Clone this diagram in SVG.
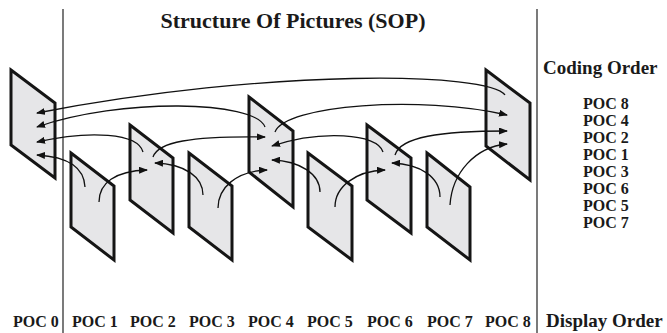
<svg xmlns="http://www.w3.org/2000/svg" width="667" height="333" viewBox="0 0 667 333">
<defs>
<marker id="ah" markerWidth="9" markerHeight="7" refX="8" refY="3.5" orient="auto" markerUnits="userSpaceOnUse">
<path d="M0,0 L9,3.5 L0,7 z" fill="#111"/>
</marker>
<style>
.fr{fill:#e6e6e8;stroke:#151515;stroke-width:3;stroke-linejoin:miter}
.cn path{fill:none;stroke:#111;stroke-width:1.3;marker-end:url(#ah)}
.t{font-family:"Liberation Serif","Times New Roman",serif;font-weight:bold;fill:#1a1a1a}
.dv{stroke:#333;stroke-width:1.3}
</style>
</defs>
<rect width="667" height="333" fill="#fff"/>
<line class="dv" x1="63" y1="9" x2="63" y2="333"/>
<line class="dv" x1="537" y1="9" x2="537" y2="333"/>
<text class="t" x="293" y="28" font-size="22" text-anchor="middle">Structure Of Pictures (SOP)</text>
<g id="poc0"><path class="fr" d="M11,70 L55,103 L55,178 L11,145 Z"/></g>
<g id="poc1"><path class="fr" d="M71,153 L114,186 L114,260 L71,227 Z"/></g>
<g id="poc2"><path class="fr" d="M130,125 L173,158 L173,233 L130,200 Z"/></g>
<g id="poc3"><path class="fr" d="M189,153 L232,186 L232,260 L189,227 Z"/></g>
<g id="poc4"><path class="fr" d="M249,97 L293,131 L293,207 L249,172 Z"/></g>
<g id="poc5"><path class="fr" d="M308,153 L352,186 L352,260 L308,227 Z"/></g>
<g id="poc6"><path class="fr" d="M367,125 L411,158 L411,233 L367,200 Z"/></g>
<g id="poc7"><path class="fr" d="M427,153 L470,187 L470,260 L427,227 Z"/></g>
<g id="poc8"><path class="fr" d="M486,70 L530,103 L530,180 L486,146 Z"/></g>
<g id="connectors" class="cn">
<path d="M505,95 C490,72 270,68 37,113"/>
<path d="M265,127 C255,100 120,98 37,127"/>
<path d="M143,152 C138,133 90,130 37,142"/>
<path d="M85,187 C84,168 70,157 37,155"/>
<path d="M99,202 C99,183 115,171 147,170"/>
<path d="M153,157 C158,142 190,136 265,137"/>
<path d="M203,195 C203,177 185,164 155,163"/>
<path d="M218,208 C218,188 236,171 267,170"/>
<path d="M275,132 C285,105 420,95 507,115"/>
<path d="M383,152 C378,133 320,130 272,146"/>
<path d="M395,155 C400,137 440,131 507,131"/>
<path d="M320,192 C320,174 300,161 272,160"/>
<path d="M335,207 C335,187 355,171 385,170"/>
<path d="M440,197 C440,177 420,164 392,163"/>
<path d="M450,205 C452,173 475,147 507,144"/>
</g>
<g class="t" font-size="19">
<text x="543" y="74">Coding Order</text>
<text x="546" y="327">Display Order</text>
</g>
<g class="t" font-size="16">
<text x="583" y="109">POC 8</text>
<text x="583" y="126">POC 4</text>
<text x="583" y="143">POC 2</text>
<text x="583" y="160">POC 1</text>
<text x="583" y="177">POC 3</text>
<text x="583" y="194">POC 6</text>
<text x="583" y="211">POC 5</text>
<text x="583" y="228">POC 7</text>
<text x="13" y="327">POC 0</text>
<text x="72" y="327">POC 1</text>
<text x="130" y="327">POC 2</text>
<text x="189" y="327">POC 3</text>
<text x="248" y="327">POC 4</text>
<text x="307" y="327">POC 5</text>
<text x="367" y="327">POC 6</text>
<text x="427" y="327">POC 7</text>
<text x="485" y="327">POC 8</text>
</g>
</svg>
